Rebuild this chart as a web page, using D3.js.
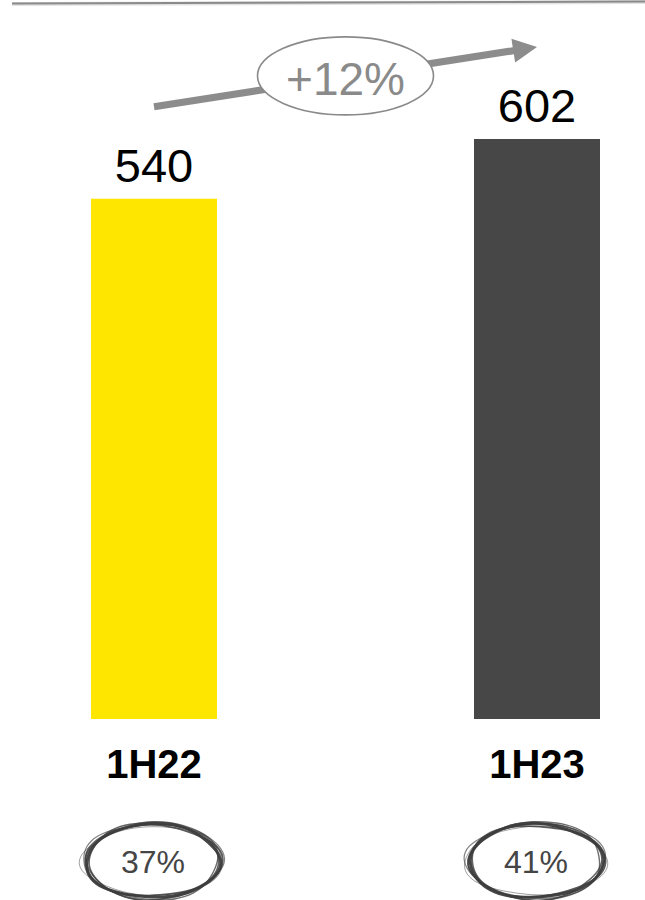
<!DOCTYPE html>
<html>
<head>
<meta charset="utf-8">
<script src="https://cdn.jsdelivr.net/npm/d3@7"></script>
<style>
  html, body { margin: 0; padding: 0; background: #fff; }
  svg { display: block; font-family: "Liberation Sans", Arial, sans-serif; }
</style>
</head>
<body>
<div id="chart"></div>
<script>
// Half-year totals
const periods = ["1H22", "1H23"];
const totals = [540, 602];
const shareLabels = ["37%", "41%"];
const growthLabel = "+12%";
const barColors = ["#FFE600", "#474747"];

const W = 645, H = 900;
const svg = d3.select("#chart").append("svg")
  .attr("width", W).attr("height", H);

// top rule
svg.append("line")
  .attr("x1", 12).attr("x2", W).attr("y1", 4).attr("y2", 2)
  .attr("stroke", "#e2e2e2").attr("stroke-width", 4);
svg.append("line")
  .attr("x1", 12).attr("x2", W).attr("y1", 3.5).attr("y2", 1.5)
  .attr("stroke", "#8a8a8a").attr("stroke-width", 2);

const x = d3.scaleBand().domain(periods).range([91, 600])
  .paddingInner(0.671).paddingOuter(0);
const y = d3.scaleLinear().domain([0, d3.max(totals)]).range([719, 139]);

const data = periods.map((p, i) => ({ period: p, value: totals[i], share: shareLabels[i], color: barColors[i] }));

// bars
svg.selectAll("rect.bar").data(data).join("rect")
  .attr("class", "bar")
  .attr("x", d => x(d.period))
  .attr("width", x.bandwidth())
  .attr("y", d => y(d.value))
  .attr("height", d => y(0) - y(d.value))
  .attr("fill", d => d.color);

// value labels
svg.selectAll("text.val").data(data).join("text")
  .attr("class", "val")
  .attr("x", d => x(d.period) + x.bandwidth() / 2)
  .attr("y", d => y(d.value) - 17)
  .attr("text-anchor", "middle")
  .attr("font-size", 47)
  .attr("fill", "#000")
  .text(d => d.value);

// period labels
svg.selectAll("text.cat").data(data).join("text")
  .attr("class", "cat")
  .attr("x", d => x(d.period) + x.bandwidth() / 2)
  .attr("y", 778)
  .attr("text-anchor", "middle")
  .attr("font-size", 40)
  .attr("font-weight", "bold")
  .attr("fill", "#000")
  .text(d => d.period);

// growth arrow between bar tops
const cx = d => x(d.period) + x.bandwidth() / 2;
const lift = 92;
const p0 = [cx(data[0]), y(data[0].value) - lift];
const p1 = [cx(data[1]), y(data[1].value) - lift];
const ang = Math.atan2(p1[1] - p0[1], p1[0] - p0[0]);
const headLen = 24, headHalf = 12, shaftHalf = 3.6;
const ux = Math.cos(ang), uy = Math.sin(ang), nx = -uy, ny = ux;
const base = [p1[0] - ux * headLen, p1[1] - uy * headLen];
const arrowPts = [
  [p0[0] + nx * shaftHalf, p0[1] + ny * shaftHalf],
  [base[0] + nx * shaftHalf, base[1] + ny * shaftHalf],
  [base[0] + nx * headHalf, base[1] + ny * headHalf],
  p1,
  [base[0] - nx * headHalf, base[1] - ny * headHalf],
  [base[0] - nx * shaftHalf, base[1] - ny * shaftHalf],
  [p0[0] - nx * shaftHalf, p0[1] - ny * shaftHalf]
];
svg.append("path")
  .attr("d", "M" + arrowPts.map(p => p.join(",")).join("L") + "Z")
  .attr("fill", "#8c8c8c");

const mid = [(p0[0] + p1[0]) / 2, (p0[1] + p1[1]) / 2];
svg.append("ellipse")
  .attr("cx", mid[0]).attr("cy", mid[1] - 1)
  .attr("rx", 88).attr("ry", 39)
  .attr("fill", "#fff")
  .attr("stroke", "#8a8a8a").attr("stroke-width", 1.6);
svg.append("text")
  .attr("x", mid[0]).attr("y", mid[1] + 18)
  .attr("text-anchor", "middle")
  .attr("font-size", 46)
  .attr("fill", "#8a8a8a")
  .text(growthLabel);

// hand-drawn loops around the share labels
const loopLine = d3.line().curve(d3.curveBasisClosed);
const strokes = [
  { dr: 0, dry: 0, rot: 0.00, w: 3.0, o: 0.95 },
  { dr: 2, dry: -1.5, rot: 0.04, w: 1.8, o: 0.85 },
  { dr: -2, dry: 1.5, rot: -0.05, w: 1.6, o: 0.8 },
  { dr: 3.5, dry: 0.5, rot: 0.08, w: 1.2, o: 0.65 },
  { dr: -1, dry: 2.5, rot: -0.02, w: 1.4, o: 0.75 },
  { dr: 4.5, dry: -2.5, rot: 0.12, w: 0.9, o: 0.55 }
];
function loop(cxp, cyp, rx, ry, s, k) {
  const pts = [];
  const n = 40;
  for (let i = 0; i < n; i++) {
    const t = (i / n) * Math.PI * 2 + s.rot;
    const wob = 1 + 0.025 * Math.sin(3 * t + k) + 0.015 * Math.cos(5 * t + 2 * k);
    pts.push([
      cxp + (rx + s.dr) * wob * Math.cos(t) - 6 * Math.sin(t) * 0.15,
      cyp + (ry + s.dry) * wob * Math.sin(t)
    ]);
  }
  return loopLine(pts);
}
data.forEach((d, i) => {
  const c = cx(d) - 1;
  const g = svg.append("g");
  strokes.forEach((s, k) => {
    g.append("path")
      .attr("d", loop(c, 861, 67, 37, s, k + i))
      .attr("fill", "none")
      .attr("stroke", "#3d3d3d")
      .attr("stroke-width", s.w)
      .attr("stroke-opacity", s.o);
  });
  g.append("text")
    .attr("x", c)
    .attr("y", 873)
    .attr("text-anchor", "middle")
    .attr("font-size", 32)
    .attr("fill", "#454545")
    .text(d.share);
});
</script>
</body>
</html>
